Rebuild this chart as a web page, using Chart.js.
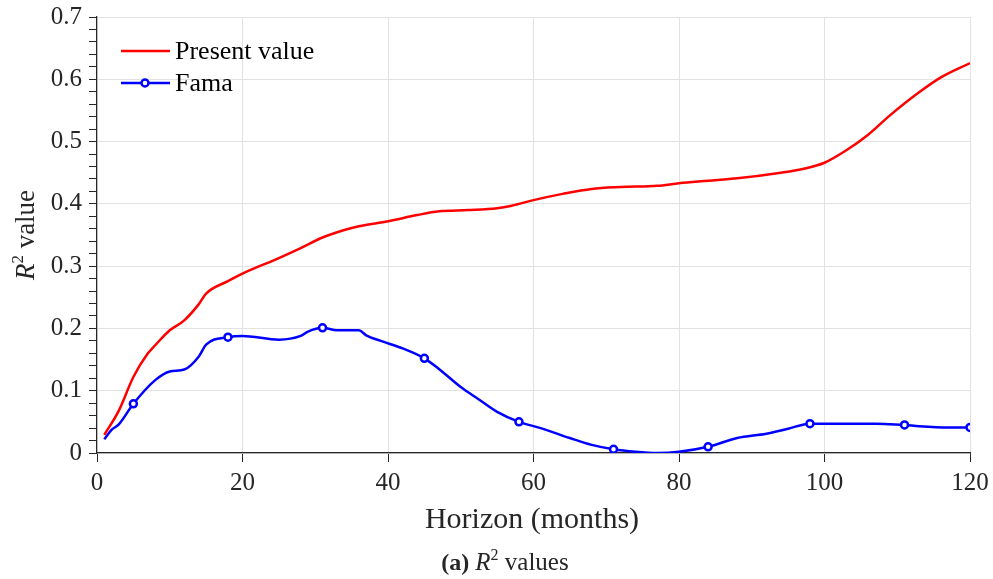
<!DOCTYPE html>
<html>
<head>
<meta charset="utf-8">
<script src="https://cdn.jsdelivr.net/npm/chart.js@4.4.1/dist/chart.umd.min.js"></script>
<style>
  html, body { margin: 0; padding: 0; background: #fff; }
  #wrap { position: relative; width: 993px; height: 579px; }
</style>
</head>
<body>
<div id="wrap"><canvas id="ChartR2"></canvas></div>
<script>
// Present value R^2 by horizon (months)
const pvMonths = [1, 3, 5, 7, 8, 10, 12, 14, 15, 18, 20, 25, 28, 31, 34, 36, 40, 44, 47, 51, 55, 57, 60, 64, 68, 72, 77, 80, 84, 88, 94, 97, 100, 103, 106, 109, 113, 116, 120];
const pvValues = [0.029, 0.068, 0.122, 0.160, 0.173, 0.197, 0.213, 0.239, 0.256, 0.276, 0.288, 0.313, 0.329, 0.346, 0.358, 0.364, 0.372, 0.382, 0.388, 0.390, 0.393, 0.397, 0.406, 0.416, 0.424, 0.427, 0.429, 0.433, 0.437, 0.441, 0.450, 0.456, 0.466, 0.486, 0.511, 0.542, 0.579, 0.603, 0.626];

// Fama R^2 by horizon (months)
const famaMonths = [1, 2, 3, 5, 8, 10, 12, 14, 15, 18, 20, 25, 28, 29, 31, 33, 36, 37, 39, 42, 45, 47, 50, 52, 55, 58, 61, 65, 68, 71, 74, 77, 80, 84, 88, 92, 95, 98, 101, 104, 107, 109, 111, 113, 117, 120];
const famaValues = [0.022, 0.037, 0.046, 0.079, 0.117, 0.131, 0.134, 0.155, 0.174, 0.186, 0.188, 0.182, 0.188, 0.195, 0.201, 0.197, 0.197, 0.189, 0.180, 0.168, 0.152, 0.135, 0.106, 0.090, 0.066, 0.050, 0.040, 0.024, 0.013, 0.006, 0.002, 0.000, 0.002, 0.010, 0.024, 0.031, 0.039, 0.047, 0.047, 0.047, 0.047, 0.046, 0.045, 0.043, 0.041, 0.041];
const famaMarkerMonths = [5, 18, 31, 45, 58, 71, 84, 98, 111, 120];

const xTicks = [0, 20, 40, 60, 80, 100, 120];

const serif = '"Liberation Serif", "DejaVu Serif", serif';
const textColor = '#262626';
const gridColor = '#e2e2e2';

function toPoints(xs, ys){
    return xs.map(function(x, i){ return {x: x, y: ys[i]}; });
}

// draws a run of text pieces (normal / italic / bold / superscript), centred on cx
function drawRuns(ctx, runs, cx, cy){
    let total = 0;
    runs.forEach(function(r){ ctx.font = r.font; total += ctx.measureText(r.t).width; });
    let x = cx - total / 2;
    ctx.textBaseline = 'alphabetic';
    ctx.textAlign = 'left';
    runs.forEach(function(r){
        ctx.font = r.font;
        ctx.fillText(r.t, x, cy + (r.dy || 0));
        x += ctx.measureText(r.t).width;
    });
}

const annotations = {
    id: 'annotations',
    afterDraw(chart){
        const ctx = chart.ctx;
        ctx.save();
        ctx.fillStyle = textColor;

        // y axis title
        ctx.save();
        ctx.translate(34, 235);
        ctx.rotate(-Math.PI / 2);
        drawRuns(ctx, [
            {t: 'R', font: 'italic 27px ' + serif},
            {t: '2', font: '17px ' + serif, dy: -11},
            {t: ' value', font: '27px ' + serif}
        ], 0, 0);
        ctx.restore();

        // x axis title
        drawRuns(ctx, [{t: 'Horizon (months)', font: '30px ' + serif}], 532, 528);

        // caption
        drawRuns(ctx, [
            {t: '(a)', font: 'bold 24px ' + serif},
            {t: ' ', font: '24px ' + serif},
            {t: 'R', font: 'italic 25px ' + serif},
            {t: '2', font: '16px ' + serif, dy: -10},
            {t: ' values', font: '25px ' + serif}
        ], 505, 570);

        // legend
        ctx.lineWidth = 2.5;
        ctx.strokeStyle = '#ff0000';
        ctx.beginPath(); ctx.moveTo(121, 51); ctx.lineTo(170, 51); ctx.stroke();
        ctx.strokeStyle = '#0000ff';
        ctx.beginPath(); ctx.moveTo(121, 83); ctx.lineTo(170, 83); ctx.stroke();
        ctx.fillStyle = '#ffffff';
        ctx.beginPath(); ctx.arc(145, 83, 3.5, 0, Math.PI * 2); ctx.fill(); ctx.stroke();
        ctx.fillStyle = '#000';
        ctx.font = '26px ' + serif;
        ctx.textAlign = 'left';
        ctx.textBaseline = 'middle';
        ctx.fillText('Present value', 175, 52);
        ctx.fillText('Fama', 175, 84);
        ctx.restore();
    }
};

const ChartR2 = new Chart(document.getElementById('ChartR2'), {
    type: 'line',
    data: {
        datasets: [{
            label: 'Present value',
            data: toPoints(pvMonths, pvValues),
            borderColor: '#ff0000',
            borderWidth: 2.5,
            pointRadius: 0,
            cubicInterpolationMode: 'monotone'
        }, {
            label: 'Fama',
            data: toPoints(famaMonths, famaValues),
            borderColor: '#0000ff',
            borderWidth: 2.5,
            pointRadius: function(c){ return c.raw && famaMarkerMonths.indexOf(c.raw.x) >= 0 ? 3.5 : 0; },
            pointBorderWidth: 2.5,
            pointBorderColor: '#0000ff',
            pointBackgroundColor: '#ffffff',
            cubicInterpolationMode: 'monotone'
        }]
    },
    options: {
        responsive: true,
        maintainAspectRatio: false,
        animation: false,
        layout: { padding: { left: 0, right: 23, top: 17, bottom: 0 } },
        plugins: {
            legend: false,
            tooltip: { enabled: false }
        },
        scales: {
            x: {
                type: 'linear',
                min: 0,
                max: 120,
                afterBuildTicks: function(scale){ scale.ticks = xTicks.map(function(v){ return {value: v}; }); },
                afterFit: function(scale){ scale.height = 126; scale.paddingLeft = 0; scale.paddingRight = 0; },
                ticks: {
                    color: textColor,
                    font: { family: serif, size: 25 },
                    padding: 6,
                    maxRotation: 0
                },
                grid: { color: gridColor, tickColor: textColor, tickLength: 9 },
                border: { color: textColor, width: 1.2 }
            },
            y: {
                min: 0,
                max: 0.7,
                afterFit: function(scale){ scale.width = 97; scale.paddingTop = 0; scale.paddingBottom = 0; },
                ticks: {
                    stepSize: 0.02,
                    autoSkip: false,
                    color: textColor,
                    font: { family: serif, size: 25 },
                    padding: 7,
                    callback: function(v){
                        const h = Math.round(v * 100);
                        return h % 10 === 0 ? String(h / 100) : '';
                    }
                },
                grid: {
                    color: function(c){
                        return c.tick && Math.round(c.tick.value * 100) % 10 === 0 ? gridColor : 'rgba(0,0,0,0)';
                    },
                    tickColor: textColor,
                    tickLength: 8
                },
                border: { color: textColor, width: 1.2 }
            }
        }
    },
    plugins: [annotations]
});
</script>
</body>
</html>
